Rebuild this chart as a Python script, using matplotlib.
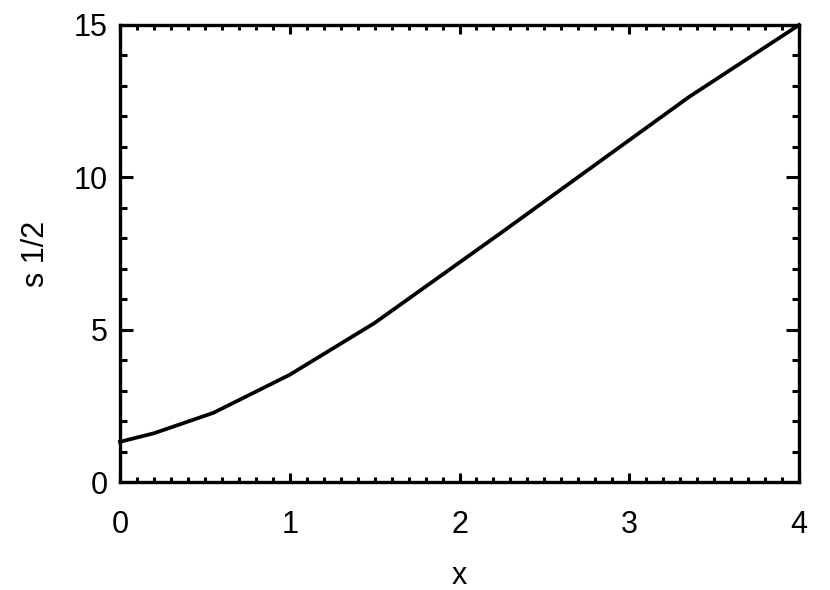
import matplotlib
matplotlib.use("Agg")
import matplotlib.pyplot as plt
from matplotlib.ticker import MultipleLocator

plt.rcParams['font.family'] = ['Liberation Sans', 'DejaVu Sans']

x_vals = [0.0, 0.2, 0.55, 1.0, 1.5, 2.25, 3.35, 4.0]
y_vals = [1.32, 1.6, 2.27, 3.52, 5.22, 8.2, 12.63, 15.0]
x_ticks = [0, 1, 2, 3, 4]
y_ticks = [0, 5, 10, 15]

fig = plt.figure(figsize=(8.3, 5.9), dpi=100)
ax = fig.add_axes([120/830, 1-482/590, (799-120)/830, (482-25)/590])
ax.plot(x_vals, y_vals, color='black', lw=2.7, clip_on=False)
ax.set_xlim(0, 4)
ax.set_ylim(0, 15)
ax.set_xticks(x_ticks)
ax.set_yticks(y_ticks)
ax.xaxis.set_minor_locator(MultipleLocator(0.1))
ax.yaxis.set_minor_locator(MultipleLocator(1))
for s in ax.spines.values():
    s.set_linewidth(2.4)
ax.tick_params(axis='x', which='major', direction='in', length=6.6, width=2.2,
               top=True, bottom=True, labelsize=22, pad=20)
ax.tick_params(axis='x', which='minor', direction='in', length=3.3, width=2.2,
               top=True, bottom=True)
ax.tick_params(axis='y', which='major', direction='in', length=9.7, width=2.2,
               left=True, right=True, labelsize=22, pad=9)
ax.tick_params(axis='y', which='minor', direction='in', length=4.9, width=2.2,
               left=True, right=True)
ax.set_xlabel('x', fontsize=22, labelpad=15)
ax.set_ylabel('s 1/2', fontsize=22, labelpad=16)
fig.savefig('out.png', dpi=100)
